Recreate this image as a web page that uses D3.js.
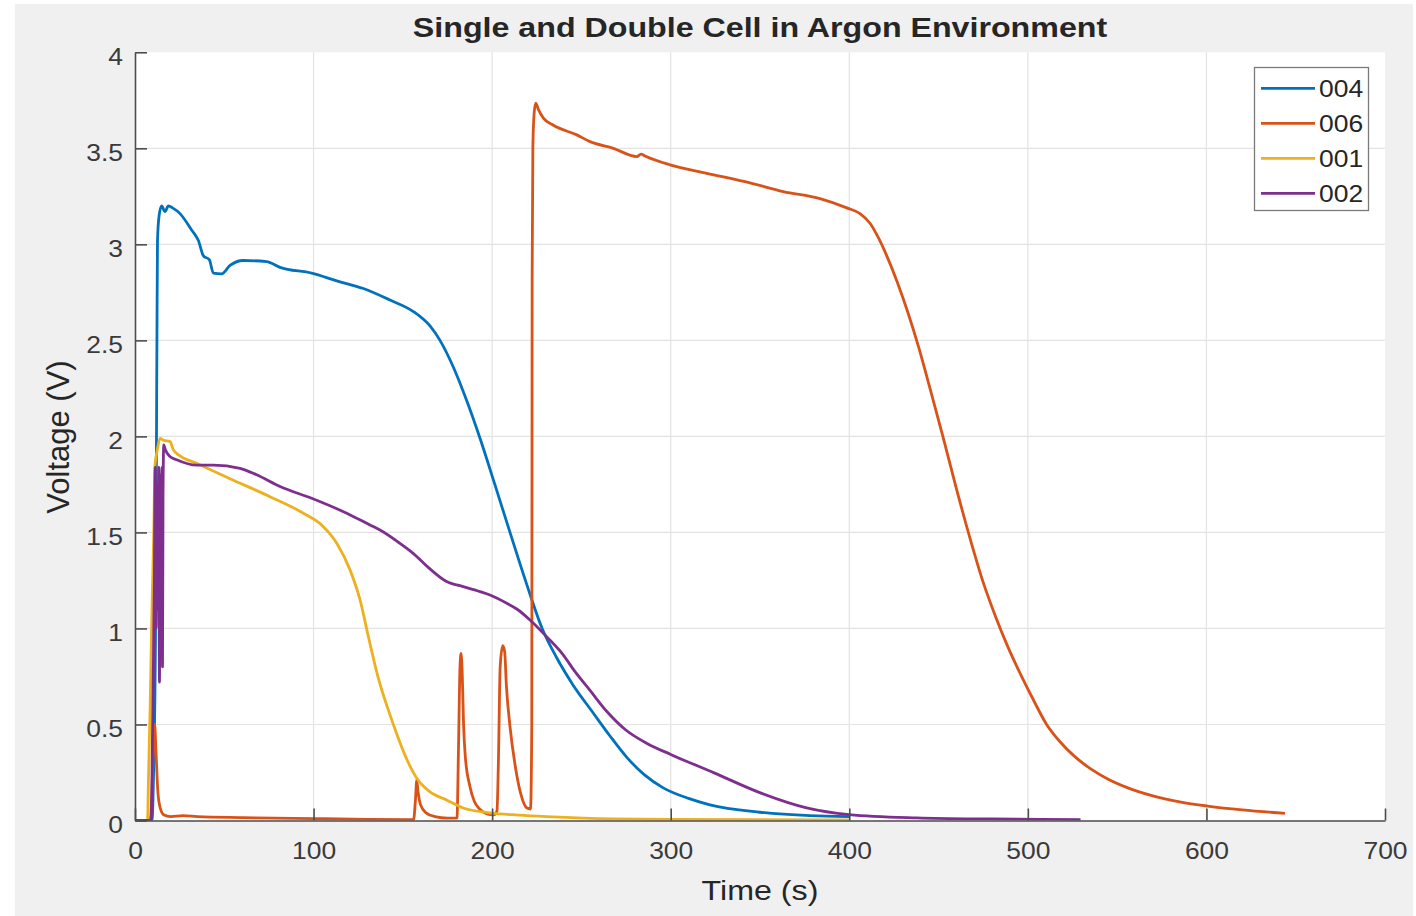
<!DOCTYPE html>
<html><head><meta charset="utf-8">
<script src="https://cdn.jsdelivr.net/npm/d3@7"></script>
<style>html,body{margin:0;padding:0;background:#fff;} svg{display:block;}</style>
</head><body>
<svg id="chart" width="1416" height="916"></svg>
<script>
// ---------- data ----------
const chartTitle = "Single and Double Cell in Argon Environment";
const xLabel = "Time (s)";
const yLabel = "Voltage (V)";
const seriesNames = ["004", "006", "001", "002"];
const xTicks = [0, 100, 200, 300, 400, 500, 600, 700];
const yTicks = [0, 0.5, 1, 1.5, 2, 2.5, 3, 3.5, 4];

// [time (s), voltage (V)]
const s004 = [[0,0],[9.5,0],[10.5,0.3],[11.5,1.0],[12,1.93],[12.3,2.54],[12.6,3.02],[13.5,3.15],[14.9,3.2],[16.8,3.17],[18.7,3.2],[21,3.19],[25.2,3.16],[31.7,3.075],[35.5,3.02],[38.3,2.94],[41.6,2.92],[43.9,2.85],[48.5,2.846],[53.2,2.89],[60.6,2.916],[73.7,2.91],[81.2,2.88],[98.9,2.85],[113,2.81],[127.9,2.77],[142.8,2.71],[155.9,2.65],[165.2,2.575],[170.8,2.5],[178.3,2.36],[186,2.18],[193.2,1.99],[201.5,1.75],[210,1.5],[219,1.24],[228,1.0],[236,0.85],[245,0.71],[256.6,0.56],[266,0.44],[275.3,0.33],[285,0.24],[295.8,0.17],[310,0.115],[322,0.081],[350,0.043],[378,0.025],[400,0.02]];

const s006 = [[0,0],[8.5,0],[9.5,0.15],[10.3,0.4],[11,0.5],[11.8,0.35],[12.8,0.15],[14,0.07],[16,0.03],[20,0.02],[27,0.025],[35,0.02],[60,0.015],[100,0.01],[130,0.006],[156,0.005],[157,0.1],[157.8,0.21],[158.5,0.15],[160,0.08],[163,0.04],[168,0.02],[175,0.012],[180.3,0.012],[181.2,0.4],[182,0.8],[182.6,0.87],[183.3,0.75],[184,0.5],[185,0.33],[187.5,0.18],[190,0.1],[193,0.06],[197,0.035],[201,0.03],[202.7,0.05],[203.5,0.3],[204.5,0.8],[205.9,0.91],[207,0.88],[208,0.7],[210,0.49],[213,0.28],[216,0.14],[219.5,0.065],[221.5,0.06],[222.2,0.5],[222.4,2.82],[222.8,3.5],[223.5,3.68],[224.4,3.735],[226,3.7],[228.7,3.657],[234.3,3.62],[247.4,3.57],[254.8,3.535],[267.9,3.5],[281,3.457],[283.4,3.47],[285.6,3.46],[299.6,3.414],[320.2,3.37],[344.4,3.32],[363,3.275],[383.6,3.238],[398.6,3.19],[406,3.16],[411.6,3.11],[416,3.04],[421,2.94],[427,2.8],[433,2.64],[439,2.46],[445.2,2.25],[452.7,1.99],[460.2,1.72],[467.6,1.47],[475,1.24],[482,1.06],[489,0.9],[496,0.76],[503,0.63],[510.5,0.5],[518,0.41],[526,0.335],[535,0.27],[545,0.215],[556,0.17],[570,0.128],[585,0.097],[600.7,0.075],[620,0.055],[644,0.0375]];

const s001 = [[0,0],[7,0],[7.5,0.2],[8.5,0.6],[9.5,1.1],[10.5,1.5],[11.2,1.85],[12.5,1.93],[14,1.99],[16,1.98],[19.6,1.973],[21.5,1.93],[25,1.9],[34.5,1.86],[53.2,1.78],[75.6,1.686],[94.3,1.6],[105.5,1.53],[113,1.444],[120.4,1.305],[126,1.15],[130.7,0.957],[136.3,0.74],[142.8,0.55],[146.6,0.45],[150.3,0.36],[157.8,0.22],[165,0.15],[174.5,0.107],[183.8,0.065],[198.8,0.04],[215,0.028],[230.5,0.02],[267.8,0.008],[300,0.006],[350,0.004],[400,0.003]];

const s002 = [[0,0],[9,0],[10,0.6],[10.8,1.2],[11.3,1.84],[11.8,1.0],[12.3,1.75],[12.8,1.1],[13.3,1.84],[13.7,0.72],[14.1,1.8],[14.6,1.2],[15.1,1.84],[15.4,0.8],[15.7,1.7],[16.1,1.956],[17,1.93],[19.6,1.895],[23.3,1.878],[34.5,1.85],[43.9,1.85],[58.8,1.834],[68.1,1.8],[81.2,1.739],[98.9,1.678],[116.7,1.608],[131.6,1.539],[137.2,1.513],[150.3,1.43],[155.9,1.39],[165.2,1.31],[174.5,1.244],[183.8,1.218],[193.2,1.192],[198.8,1.174],[208.2,1.131],[214,1.1],[221.2,1.044],[230.5,0.957],[240,0.86],[246,0.78],[254.6,0.68],[264,0.57],[274.5,0.474],[287,0.4],[300,0.344],[324.3,0.248],[350.2,0.144],[376.1,0.066],[400,0.031],[437.8,0.014],[480,0.008],[529.5,0.005]];

const seriesData = [s004, s006, s001, s002];

// ---------- styles ----------
const colors = ["#0072BD", "#D95319", "#EDB120", "#7E2F8E"];
const M = {left: 135, right: 1385, top: 52.3, bottom: 820.5};
const SX = 1.15; // horizontal stretch of text
const FONT = "'Liberation Sans', Arial, Helvetica, sans-serif";

const svg = d3.select("#chart");
svg.append("rect").attr("x", 15).attr("y", 4).attr("width", 1398).attr("height", 912).attr("fill", "#f0f0f0");
svg.append("rect").attr("x", M.left).attr("y", M.top).attr("width", M.right - M.left).attr("height", M.bottom - M.top).attr("fill", "#fff");

const x = d3.scaleLinear().domain([0, 700]).range([M.left, M.right]);
const y = d3.scaleLinear().domain([0, 4]).range([M.bottom, M.top]);

// grid
const grid = svg.append("g").attr("stroke", "#e3e3e3").attr("stroke-width", 1.2);
grid.selectAll("line.gx").data(xTicks.filter(d => d > 0 && d < 700)).join("line")
  .attr("x1", d => x(d)).attr("x2", d => x(d)).attr("y1", M.top).attr("y2", M.bottom);
grid.selectAll("line.gy").data(yTicks.filter(d => d > 0 && d < 4)).join("line")
  .attr("y1", d => y(d)).attr("y2", d => y(d)).attr("x1", M.left).attr("x2", M.right);

// lines
svg.append("clipPath").attr("id", "clip").append("rect")
  .attr("x", M.left).attr("y", M.top - 2).attr("width", M.right - M.left).attr("height", M.bottom - M.top + 2);
const line = d3.line().x(d => x(d[0])).y(d => y(d[1])).curve(d3.curveMonotoneX);
const lg = svg.append("g").attr("clip-path", "url(#clip)");
seriesData.forEach((s, i) => {
  lg.append("path").datum(s).attr("d", line).attr("fill", "none")
    .attr("stroke", colors[i]).attr("stroke-width", 2.8).attr("stroke-linejoin", "round");
});

// axes
const axColor = "#4d4d4d";
const xAxis = d3.axisBottom(x).tickValues(xTicks).tickFormat(d3.format("d")).tickSizeInner(-12).tickSizeOuter(0).tickPadding(22);
const yAxis = d3.axisLeft(y).tickValues(yTicks).tickFormat(d => String(d)).tickSizeInner(-12).tickSizeOuter(0).tickPadding(12);
const gx = svg.append("g").attr("transform", `translate(0,${M.bottom})`).call(xAxis);
const gy = svg.append("g").attr("transform", `translate(${M.left},0)`).call(yAxis);
[gx, gy].forEach(g => {
  g.select(".domain").attr("stroke", axColor).attr("stroke-width", 1.6);
  g.selectAll(".tick line").attr("stroke", axColor).attr("stroke-width", 1.6);
  g.selectAll(".tick text").attr("fill", "#3a3a3a").style("font-family", FONT).style("font-size", "23px");
});
gx.selectAll(".tick text").attr("transform", `scale(${SX},1)`).attr("dy", "0.72em");
gy.selectAll(".tick text").attr("x", -12 / SX).attr("dy", "0.52em").attr("transform", `scale(${SX},1)`);

// title & labels
function labelText(px, py, txt, size, weight, sx, rot) {
  const g = svg.append("g").attr("transform", `translate(${px},${py}) scale(${sx},1)` + (rot ? ` rotate(${rot})` : ""));
  g.append("text").attr("text-anchor", "middle").style("font-family", FONT)
    .style("font-size", size + "px").style("font-weight", weight).attr("fill", "#262626").text(txt);
  return g;
}
labelText((M.left + M.right) / 2, 37, chartTitle, 28, "bold", SX);
labelText((M.left + M.right) / 2, 900, xLabel, 28, "normal", SX);
labelText(69, 437, yLabel, 31, "normal", 1, -90);

// legend
const leg = svg.append("g");
leg.append("rect").attr("x", 1254.5).attr("y", 67.5).attr("width", 114).attr("height", 143)
  .attr("fill", "#fff").attr("stroke", "#7a7a7a").attr("stroke-width", 1.3);
seriesNames.forEach((name, i) => {
  const cy = 88.3 + i * 35;
  leg.append("line").attr("x1", 1261).attr("x2", 1315).attr("y1", cy).attr("y2", cy)
    .attr("stroke", colors[i]).attr("stroke-width", 2.8);
  leg.append("g").attr("transform", `translate(1319,${cy}) scale(${SX},1)`)
    .append("text").attr("dy", "0.36em").style("font-family", FONT).style("font-size", "23px")
    .attr("fill", "#262626").text(name);
});
</script>
</body></html>
